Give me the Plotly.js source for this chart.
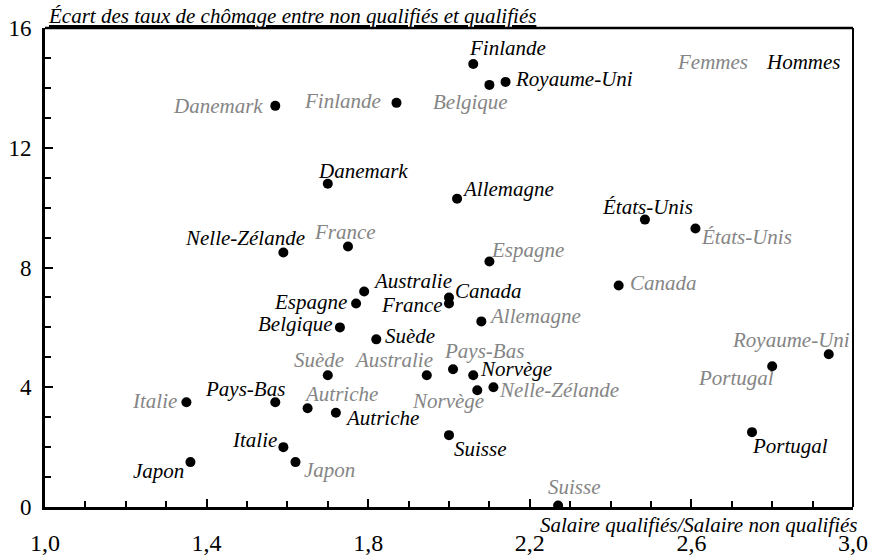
<!DOCTYPE html>
<html>
<head>
<meta charset="utf-8">
<script src="https://cdn.plot.ly/plotly-3.0.1.min.js"></script>
<style>html,body{margin:0;padding:0;background:#fff;overflow:hidden;}
#chart{position:absolute;left:0;top:0;width:872px;height:558px;z-index:2;}
#chart svg text{font-family:'Times New Roman', 'Liberation Serif', serif !important;}
#preload{position:absolute;left:300px;top:200px;font-family:'Times New Roman', 'Liberation Serif', serif;font-size:21px;color:#fff;z-index:1;}</style>
</head>
<body>
<div id="preload">Ecart 0123456789 <i>Danemark Ecart</i></div>
<div id="chart"></div>
<script>
// Hommes (black labels)
const countriesH = ["Finlande","Royaume-Uni","Danemark","Allemagne","États-Unis","Nelle-Zélande","Australie","Canada","France","Espagne","Belgique","Suède","Pays-Bas","Norvège","Autriche","Italie","Suisse","Portugal","Japon"];
const salaireH   = [2.06, 2.14, 1.70, 2.02, 2.485, 1.59, 1.79, 2.00, 2.00, 1.77, 1.73, 1.82, 1.57, 2.06, 1.72, 1.59, 2.00, 2.75, 1.36];
const ecartH     = [14.8, 14.2, 10.8, 10.3, 9.6, 8.5, 7.2, 7.0, 6.8, 6.8, 6.0, 5.6, 3.5, 4.4, 3.15, 2.0, 2.4, 2.5, 1.5];

// Femmes (grey labels)
const countriesF = ["Danemark","Finlande","Belgique","France","Espagne","États-Unis","Canada","Allemagne","Pays-Bas","Suède","Australie","Italie","Autriche","Norvège","Nelle-Zélande","Royaume-Uni","Portugal","Japon","Suisse"];
const salaireF   = [1.57, 1.87, 2.10, 1.75, 2.10, 2.61, 2.42, 2.08, 2.01, 1.70, 1.945, 1.35, 1.65, 2.07, 2.11, 2.94, 2.80, 1.62, 2.27];
const ecartF     = [13.4, 13.5, 14.1, 8.7, 8.2, 9.3, 7.4, 6.2, 4.6, 4.4, 4.4, 3.5, 3.3, 3.9, 4.0, 5.1, 4.7, 1.5, 0.05];

const xTickVals = [1.0, 1.4, 1.8, 2.2, 2.6, 3.0];
const yTickVals = [0, 4, 8, 12, 16];
const groupNames = ["Femmes", "Hommes"];

// label placement (style): [anchor, dx px, dy px (down positive)]
const placeH = [["l",-6,-16],["l",7,-3],["l",-12,-13],["l",3,-10],["c",3,-13],["r",24,-15],["l",7,-10],["l",4,-6],["r",-4,2],["r",-7,-1],["r",-5,-3],["l",7,-3],["r",12,-13],["l",5,-6],["l",7,5],["r",-4,-7],["l",3,14],["l",-2,14],["r",-4,9]];
const placeF = [["r",-10,0],["r",-13,-2],["c",-19,17],["c",-3,-15],["l",0,-12],["l",4,8],["l",9,-2],["l",6,-5],["l",-11,-18],["c",-9,-15],["r",8,-15],["r",-7,-1],["l",-6,-14],["r",9,11],["l",4,3],["r",23,-14],["r",4,12],["l",7,8],["c",16,-19]];

const FONT = 'Times New Roman';
const GREY = '#858585';
const anchorMap = {l:'left', r:'right', c:'center'};

function labels(names, xs, ys, place, color) {
  return names.map((n, i) => ({
    x: xs[i], y: ys[i], xref: 'x', yref: 'y',
    text: '<i>' + n + '</i>', showarrow: false,
    xanchor: anchorMap[place[i][0]], yanchor: 'middle',
    xshift: place[i][1], yshift: -place[i][2],
    font: {family: FONT, size: 21, color: color}
  }));
}

function forceSerif() {
  document.querySelectorAll('#chart text').forEach(function (el) {
    el.style.setProperty('font-family', "'Times New Roman', 'Liberation Serif', serif", 'important');
  });
}

function draw() {
  const annotations = [].concat(
    labels(countriesH, salaireH, ecartH, placeH, '#000'),
    labels(countriesF, salaireF, ecartF, placeF, GREY),
    [
      {xref:'paper', yref:'paper', x:0, y:1, xanchor:'left', yanchor:'bottom', xshift:1, yshift:-2, showarrow:false,
       text:'<i><u>Écart des taux de chômage entre non qualifiés et qualifiés</u></i>', font:{family:FONT, size:21, color:'#000'}},
      {xref:'paper', yref:'paper', x:1.0087, y:-0.0376, xanchor:'right', yanchor:'middle', showarrow:false,
       text:'<i>Salaire qualifiés/Salaire non qualifiés</i>', font:{family:FONT, size:21, color:'#000'}},
      {xref:'paper', yref:'paper', x:0.8255, y:0.929, xanchor:'center', yanchor:'middle', showarrow:false,
       text:'<i>' + groupNames[0] + '</i>', font:{family:FONT, size:21, color:GREY}},
      {xref:'paper', yref:'paper', x:0.9387, y:0.929, xanchor:'center', yanchor:'middle', showarrow:false,
       text:'<i>' + groupNames[1] + '</i>', font:{family:FONT, size:21, color:'#000'}}
    ]
  );

  const traces = [
    {x: salaireF, y: ecartF, type:'scatter', mode:'markers', name: groupNames[0],
     marker:{color:'#000', size:10}},
    {x: salaireH, y: ecartH, type:'scatter', mode:'markers', name: groupNames[1],
     marker:{color:'#000', size:10}}
  ];

  const layout = {
    width: 872, height: 558,
    margin: {l:45, r:19, t:28, b:51},
    showlegend: false,
    separators: ',.',
    font: {family: FONT, color:'#000', size:21},
    xaxis: {
      range:[1,3], tickvals: xTickVals, tickformat: '.1f',
      showgrid:false, zeroline:false,
      showline:true, linecolor:'#000', linewidth:3,
      ticks:'inside', ticklen:8, tickwidth:2, tickcolor:'#000',
      minor:{dtick:0.1, tick0:1, ticks:'inside', ticklen:6, tickwidth:2, tickcolor:'#000', showgrid:false},
      tickfont:{family:FONT, size:24, color:'#000'},
      ticklabelstandoff: 12
    },
    yaxis: {
      range:[0,16], tickvals: yTickVals,
      showgrid:false, zeroline:false,
      showline:true, linecolor:'#000', linewidth:3,
      ticks:'inside', ticklen:8, tickwidth:2, tickcolor:'#000',
      minor:{dtick:1, tick0:0, ticks:'inside', ticklen:6, tickwidth:2, tickcolor:'#000', showgrid:false},
      tickfont:{family:FONT, size:23, color:'#000'},
      ticklabelstandoff: 6
    },
    shapes: [
      {type:'line', xref:'paper', yref:'paper', x0:0, x1:1, y0:1, y1:1, line:{color:'#000', width:2.5}},
      {type:'line', xref:'paper', yref:'paper', x0:1, x1:1, y0:0, y1:1, line:{color:'#000', width:2}}
    ],
    annotations: annotations
  };

  return Plotly.newPlot('chart', traces, layout, {displayModeBar:false, staticPlot:true}).then(forceSerif);
}

draw();
if (document.fonts && document.fonts.load) {
  Promise.all([
    document.fonts.load('21px "Times New Roman"'),
    document.fonts.load('italic 21px "Times New Roman"')
  ]).then(draw).catch(function(){});
}
</script>
</body>
</html>
